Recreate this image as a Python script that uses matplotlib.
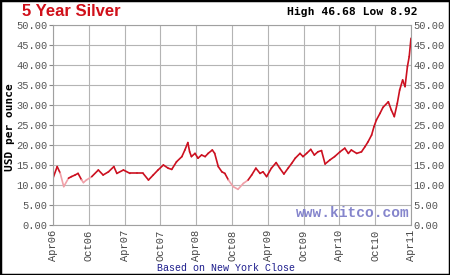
import numpy as np
import matplotlib
matplotlib.use("Agg")
import matplotlib.pyplot as plt
from matplotlib.collections import LineCollection
from matplotlib.patches import Rectangle

# months since Apr 2006
months = [0, 0.7, 1.2, 1.8, 2.6, 3.1, 3.7, 4.2, 4.8, 5.1,
          5.6, 6.5, 7.6, 8.4, 9.3, 10.2, 10.7, 11.8, 12.9, 14.0,
          15.1, 16.0, 16.8, 17.6, 18.5, 19.3, 19.9, 20.7, 21.6, 22.1,
          22.6, 22.9, 23.2, 23.8, 24.3, 24.9, 25.5, 26.0, 26.7, 27.1,
          27.7, 28.3, 28.8, 29.4, 30.2, 31.0, 31.9, 32.7, 33.3, 34.0,
          34.7, 35.2, 35.8, 36.6, 37.4, 38.0, 38.7, 39.4, 40.0, 40.6,
          41.4, 41.9, 42.5, 43.2, 43.8, 44.4, 45.0, 45.6, 46.4, 47.2,
          48.1, 48.9, 49.5, 50.0, 50.9, 51.7, 52.3, 52.8, 53.4, 53.8,
          54.2, 54.8, 55.3, 56.2, 56.7, 57.2, 57.7, 58.1, 58.6, 59.0,
          59.4, 59.7, 60.0]
prices = [11.7, 14.6, 13.0, 9.6, 11.7, 12.1, 12.5, 12.9, 11.25, 10.6,
          11.25, 12.1, 13.75, 12.5, 13.3, 14.6, 12.9, 13.75, 12.9, 12.9,
          12.9, 11.25, 12.5, 13.75, 15.0, 14.2, 13.9, 15.8, 17.1, 18.75,
          20.6, 18.3, 17.1, 17.9, 16.7, 17.5, 17.1, 17.9, 18.75, 17.9,
          14.6, 13.3, 12.9, 11.25, 9.6, 8.92, 10.4, 11.25, 12.5, 14.2,
          12.9, 13.3, 12.1, 14.2, 15.6, 14.2, 12.75, 14.2, 15.4, 16.7,
          17.9, 17.1, 17.9, 18.9, 17.5, 18.3, 18.6, 15.25, 16.25, 17.1,
          18.3, 19.2, 17.9, 18.75, 17.9, 18.3, 19.6, 20.8, 22.5, 24.6,
          26.25, 27.9, 29.4, 30.8, 28.75, 27.1, 30.4, 33.75, 36.25, 34.6,
          39.6, 42.1, 46.68]
tick_months = [0, 6, 12, 18, 24, 30, 36, 42, 48, 54, 60]
tick_labels = ["Apr06", "Oct06", "Apr07", "Oct07", "Apr08", "Oct08",
               "Apr09", "Oct09", "Apr10", "Oct10", "Apr11"]
y_ticks = [0, 5, 10, 15, 20, 25, 30, 35, 40, 45, 50]

MONO = ["Liberation Mono", "DejaVu Sans Mono"]
W, H = 450, 275

fig = plt.figure(figsize=(4.5, 2.75), dpi=100)
fig.patch.set_facecolor("white")
ax = fig.add_axes([53 / W, (H - 225) / H, 358 / W, 200 / H])
ax.set_xlim(0, 60)
ax.set_ylim(0, 50)

ax.grid(True, color="#b4b4b4", lw=0.8)
ax.set_axisbelow(True)
for s in ax.spines.values():
    s.set_color("#a0a0a0")
    s.set_linewidth(0.8)

pts = np.column_stack([months, prices])
segs = np.stack([pts[:-1], pts[1:]], axis=1)
mid = (pts[:-1, 1] + pts[1:, 1]) / 2
cols = ["#f0a0a8" if m < 11.8 else "#cc1020" for m in mid]
lc = LineCollection(segs, colors=cols, linewidths=1.2, capstyle="round", joinstyle="round")
ax.add_collection(lc)

ax.set_xticks(tick_months)
ax.set_xticklabels(tick_labels, rotation=90, family=MONO, fontsize=7.5, color="#444444")
ax.tick_params(axis="x", length=0, pad=3.6)

ax.set_yticks(y_ticks)
ax.set_yticklabels([f"{v:.2f}" for v in y_ticks], family=MONO, fontsize=7.5, color="#555555")
ax.tick_params(axis="y", length=3, pad=1, color="#888888")

ax2 = ax.twinx()
ax2.set_ylim(0, 50)
ax2.set_yticks(y_ticks)
ax2.set_yticklabels([f"{v:.2f}" for v in y_ticks], family=MONO, fontsize=7.5, color="#555555")
ax2.tick_params(axis="y", length=0, pad=1.5)
for s in ax2.spines.values():
    s.set_visible(False)

fig.text(22 / W, 1 - 12 / H, "5 Year Silver", color="#d0101a", fontsize=12,
         fontweight="bold", family=["Liberation Sans", "DejaVu Sans"], va="center", ha="left")
fig.text(418 / W, 1 - 12 / H, "High 46.68 Low 8.92", color="black", fontsize=8.2,
         fontweight="bold", family=["DejaVu Sans Mono"], va="center", ha="right")
fig.text(10 / W, 1 - 127 / H, "USD per ounce", rotation=90, color="black", fontsize=8,
         fontweight="bold", family=["DejaVu Sans Mono"], va="center", ha="center")
fig.text(226 / W, 1 - 268 / H, "Based on New York Close", color="#1c1c8c", fontsize=7.2,
         family=MONO, va="center", ha="center")
fig.text(410 / W, 1 - 213 / H, "www.kitco.com", color="#8585cc", fontsize=10.5,
         fontweight="bold", family=MONO, va="center", ha="right")

fig.add_artist(Rectangle((0, 0), 1, 1, transform=fig.transFigure, fill=False,
                         edgecolor="black", lw=2.5))

fig.savefig("out.png", dpi=100)
